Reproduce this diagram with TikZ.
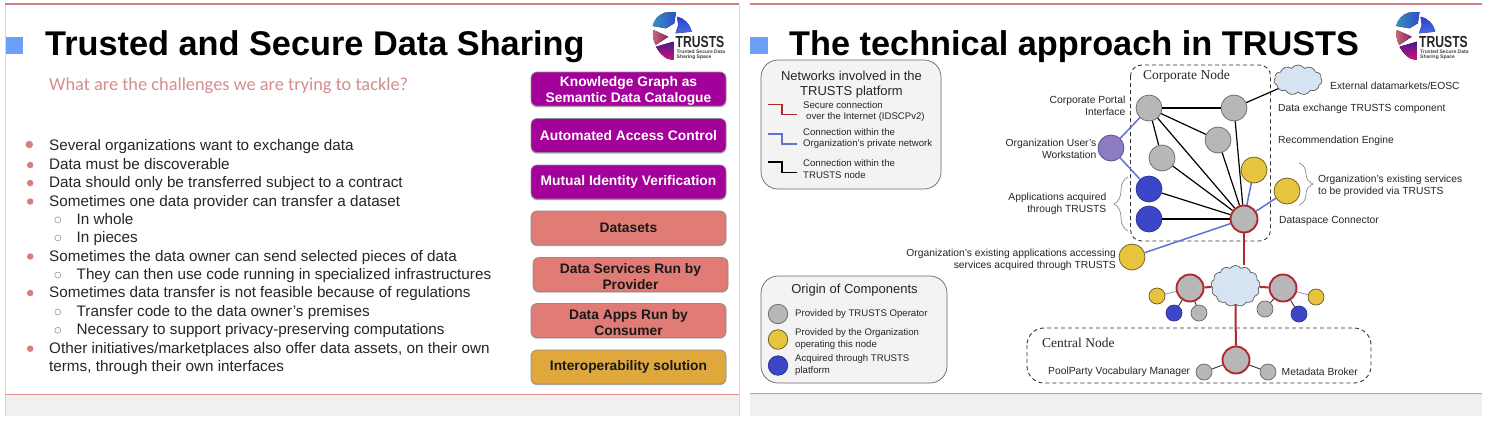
\documentclass[tikz,border=0pt]{standalone}
\usepackage{fontspec}
\setmainfont{Liberation Sans}
\newfontfamily\subtitlefont{Carlito}
\newfontfamily\labelserif{Liberation Serif}
\usetikzlibrary{shapes.symbols,shadows,decorations.pathreplacing}
\newcommand{\fsz}[1]{\fontsize{#1}{#1}\selectfont}
\newcommand{\topstrut}{\rule{0pt}{14pt}}
\definecolor{slidered}{HTML}{CF8482}
\definecolor{footerline}{HTML}{E58F8C}
\definecolor{bandgray}{HTML}{F0F0F0}
\definecolor{edgegray}{HTML}{D9D9D9}
\definecolor{squareblue}{HTML}{6D9EF8}
\definecolor{subtitlered}{HTML}{D48E8C}
\definecolor{bulletred}{HTML}{D67F7C}
\definecolor{boxpurple}{HTML}{A4009A}
\definecolor{boxred}{HTML}{E07C75}
\definecolor{boxorange}{HTML}{E0A83C}
\definecolor{legendfill}{HTML}{F3F3F3}
\definecolor{compgray}{HTML}{B7B7B7}
\definecolor{compyellow}{HTML}{E6C440}
\definecolor{compblue}{HTML}{3C46C8}
\definecolor{comppurple}{HTML}{8E7CC3}
\definecolor{netred}{HTML}{B0282E}
\definecolor{netblue}{HTML}{5F73CF}
\definecolor{cloudblue}{HTML}{D6E3F3}
\definecolor{txt}{HTML}{262626}
\definecolor{logoteal}{HTML}{3D8FB8}
\definecolor{logoblue}{HTML}{2A4FD0}
\definecolor{logoblueb}{HTML}{2A3FD8}
\definecolor{logobluec}{HTML}{4A6AE0}
\definecolor{logopink}{HTML}{C96A78}
\definecolor{logowine}{HTML}{8A2060}
\definecolor{logoviolet}{HTML}{4A1A90}
\definecolor{logomag}{HTML}{D0107A}
\tikzset{
  slidetitle/.style={anchor=base west,inner sep=0,font=\fsz{34.3}\bfseries,text=black},
  lineitem/.style={anchor=base west,inner sep=0,font=\fsz{15.25},text=txt},
  dotbig/.style={circle,fill=bulletred,inner sep=0,minimum size=6.5pt},
  dothollow/.style={circle,draw=gray!80,line width=.6pt,inner sep=0,minimum size=6pt},
  catbox/.style={rectangle,rounded corners=6pt,minimum width=195pt,minimum height=34pt,inner sep=0,
    align=center,draw=black!45,line width=.7pt,font=\fsz{13.8}\bfseries,
    drop shadow={shadow xshift=0pt,shadow yshift=-1.2pt,opacity=.3,fill=black}},
  pbox/.style={catbox,fill=boxpurple,text=white},
  rbox/.style={catbox,fill=boxred,text=black!90},
  obox/.style={catbox,fill=boxorange,text=black!90},
  legend/.style={rectangle,rounded corners=17pt,draw=black!60,line width=.7pt,fill=legendfill,inner sep=0},
  dashbox/.style={draw=black!80,line width=.9pt,dash pattern=on 4pt off 3pt},
  comp/.style={circle,inner sep=0,minimum size=#1,line width=.7pt},
  comp/.default=26pt,
  cgray/.style={comp=#1,fill=compgray,draw=black!60},
  cgray/.default=26pt,
  cyellow/.style={comp=#1,fill=compyellow,draw=black!55!compyellow},
  cyellow/.default=26pt,
  cblue/.style={comp=#1,fill=compblue,draw=compblue!70!black},
  cblue/.default=26pt,
  cpurple/.style={comp=#1,fill=comppurple,draw=comppurple!60!black},
  cpurple/.default=26pt,
  cgate/.style={comp=#1,fill=compgray,draw=netred,line width=1.9pt},
  cgate/.default=27pt,
  blk/.style={draw=black,line width=1.2pt},
  blu/.style={draw=netblue,line width=1.5pt},
  redl/.style={draw=netred,line width=2pt},
  thinblk/.style={draw=black!80,line width=.9pt},
  thinblu/.style={draw=netblue!70,line width=.9pt},
  lab/.style={inner sep=0,font=\fsz{10.3},text=txt,align=#1},
  lab/.default=left,
  leglab/.style={inner sep=0,anchor=west,font=\fsz{9.6},text=txt,align=left},
  nodehead/.style={inner sep=0,anchor=west,font=\labelserif\fsz{13.5},text=txt},
  skycloud/.style={cloud,cloud puffs=#1,cloud puff arc=110,aspect=1.3,draw=black!65,fill=cloudblue,inner sep=0,line width=.7pt},
  bracel/.style={draw=black!45,line width=.7pt,decorate,decoration={brace,amplitude=14pt}},
}
% #1 = horizontal shift, #2 = prefix for the logo's node names
\newcommand{\trustslogo}[2]{%
  \begin{scope}[xshift=#1]
    \fill[left color=logoteal,right color=logoblue,draw=none]
      (652.7,26) .. controls (654,20) and (658,15) .. (665,12.6) -- (676,12) -- (674.3,23.3) -- (666,28.3) -- cycle;
    \fill[top color=logoblueb,bottom color=logobluec]
      (677,16.7) .. controls (684,18) and (690,24) .. (691.7,31.7) -- (675.5,33.3) -- (678.3,25) -- cycle;
    \fill[left color=logopink,right color=logowine]
      (653.3,30) -- (668.3,36.7) -- (655.7,45) .. controls (653,40) and (652.5,35) .. (653.3,30) -- cycle;
    \fill[top color=logoviolet,bottom color=logomag]
      (656,46.7) -- (673.3,41.7) -- (673.3,60) .. controls (666,60) and (660,54) .. (656,46.7) -- cycle;
    \node[inner sep=0,anchor=base west,font=\fsz{16}\bfseries,text=black!85] (#2name) at (675.5,47.5) {\scalebox{.76}[1]{TRUSTS}};
    \node[inner sep=0,anchor=base west,font=\fsz{5}\bfseries,text=black!75,align=left] (#2sub) at (676.5,53) {Trusted Secure Data};
    \node[inner sep=0,anchor=base west,font=\fsz{5}\bfseries,text=black!75,align=left] (#2subb) at (676.5,58.5) {Sharing Space};
  \end{scope}}
\begin{document}
\begin{tikzpicture}[x=1pt,y=-1pt]
\useasboundingbox (0,0) rectangle (1493,421);
\fill[white] (0,0) rectangle (1493,421);

%% ---- slide frames
\fill[bandgray] (5,395) rectangle (739,415.5);
\fill[bandgray] (750,394) rectangle (1482,415.5);
\draw[edgegray,line width=.7pt] (5.3,4) -- (5.3,415.5);
\draw[edgegray,line width=.7pt] (739.3,4) -- (739.3,415.5);
\draw[slidered,line width=1.5pt] (5,4.2) -- (739,4.2);
\draw[slidered,line width=1.5pt] (750,4.2) -- (1482,4.2);
\draw[footerline,line width=1pt] (5,394.3) -- (739,394.3);
\draw[footerline,line width=1pt] (750,393.3) -- (1482,393.3);
\fill[squareblue] (5.5,37) rectangle (23,54);
\fill[squareblue] (750,37) rectangle (768,54);

%% ---- slide 1 text
\node[slidetitle] (t1) at (45,55) {Trusted and Secure Data Sharing};
\node[inner sep=0,anchor=base west,font=\subtitlefont\fsz{18.35},text=subtitlered] (st1) at (49,90) {What are the challenges we are trying to tackle?};

\node[dotbig,minimum size=7.5pt] (b1) at (29.3,144.5) {};
\node[lineitem] (l1) at (49,150) {Several organizations want to exchange data};
\node[dotbig] (b2) at (30.2,165) {};
\node[lineitem] (l2) at (49,169.5) {Data must be discoverable};
\node[dotbig] (b3) at (30.2,183) {};
\node[lineitem] (l3) at (49,187.8) {Data should only be transferred subject to a contract};
\node[dotbig] (b4) at (30.2,201.5) {};
\node[lineitem] (l4) at (49,206) {Sometimes one data provider can transfer a dataset};
\node[dothollow] (c1) at (57.8,219.8) {};
\node[lineitem] (l5) at (76.5,224.5) {In whole};
\node[dothollow] (c2) at (57.8,238) {};
\node[lineitem] (l6) at (76.5,242.7) {In pieces};
\node[dotbig] (b5) at (30.2,256.5) {};
\node[lineitem] (l7) at (49,261) {Sometimes the data owner can send selected pieces of data};
\node[dothollow] (c3) at (57.8,275) {};
\node[lineitem] (l8) at (76.5,279.3) {They can then use code running in specialized infrastructures};
\node[dotbig] (b6) at (30.2,293) {};
\node[lineitem] (l9) at (49,297.5) {Sometimes data transfer is not feasible because of regulations};
\node[dothollow] (c4) at (57.8,312) {};
\node[lineitem] (l10) at (76.5,316.5) {Transfer code to the data owner’s premises};
\node[dothollow] (c5) at (57.8,330.3) {};
\node[lineitem] (l11) at (76.5,334.8) {Necessary to support privacy-preserving computations};
\node[dotbig] (b7) at (30.2,348.7) {};
\node[lineitem] (l12) at (49,353) {Other initiatives/marketplaces also offer data assets, on their own};
\node[lineitem] (l13) at (49,371.3) {terms, through their own interfaces};

%% ---- slide 1 boxes
\node[pbox] (k1) at (628.5,89) {\topstrut Knowledge Graph as\\[2pt]Semantic Data Catalogue};
\node[pbox] (k2) at (628.5,135.5) {Automated Access Control};
\node[pbox] (k3) at (628.5,182) {Mutual Identity Verification};
\node[rbox] (k4) at (628.5,228) {Datasets};
\node[rbox] (k5) at (630.5,274.5) {\topstrut Data Services Run by\\[2.5pt]Provider};
\node[rbox] (k6) at (628.5,320.5) {\topstrut Data Apps Run by\\[2.5pt]Consumer};
\node[obox] (k7) at (628.5,367) {Interoperability solution};

\trustslogo{0pt}{la}
\trustslogo{743.5pt}{lb}

%% ---- slide 2 title
\node[slidetitle] (t2) at (789,55) {The technical approach in TRUSTS};

%% ---- legend: networks
\node[legend,minimum width=180pt,minimum height=129pt] (lg1) at (851,124.5) {};
\node[inner sep=0,font=\fsz{13},align=center,text=txt] (lg1t) at (851.5,84.5) {Networks involved in the\\[2.2pt]TRUSTS platform};
\coordinate (ra) at (768,104.3); \coordinate (rb) at (797,114.7);
\coordinate (ba) at (768,134); \coordinate (bb) at (797,144);
\coordinate (ka) at (768,162); \coordinate (kb) at (797,172.3);
\draw[netred,line width=1.2pt] (ra) -| (782,114.7) -- (rb);
\draw[netblue,line width=1.2pt] (ba) -| (782,144) -- (bb);
\draw[black,line width=1.2pt] (ka) -| (782,172.3) -- (kb);
\node[leglab] (n1) at (803,105.5) {Secure connection};
\node[leglab] (n2) at (806,117.5) {over the Internet (IDSCPv2)};
\node[leglab] (n3) at (803,132.5) {Connection within the};
\node[leglab] (n4) at (803,144.5) {Organization’s private network};
\node[leglab] (n5) at (803,163.5) {Connection within the};
\node[leglab] (n6) at (803,175) {TRUSTS node};

%% ---- legend: origin
\node[legend,minimum width=186pt,minimum height=107pt] (lg2) at (854,329.5) {};
\node[inner sep=0,font=\fsz{13},text=txt] (lg2t) at (854.5,290.5) {Origin of Components};
\node[cgray=19.5pt] (o1) at (778,314) {};
\node[cyellow=19.5pt] (o2) at (778,339.5) {};
\node[cblue=19.5pt] (o3) at (778,365.5) {};
\node[leglab] (m1) at (795,314) {Provided by TRUSTS Operator};
\node[leglab] (m2) at (795,333.5) {Provided by the Organization};
\node[leglab] (m3) at (795,345) {operating this node};
\node[leglab] (m4) at (795,359.5) {Acquired through TRUSTS};
\node[leglab] (m5) at (795,371) {platform};

%% ---- dashed group boxes
\draw[dashbox,rounded corners=11pt] (1130.5,65) rectangle (1270.5,241);
\draw[dashbox,rounded corners=17pt] (1027,328) rectangle (1371,383);
\node[nodehead] (corp) at (1143,76.5) {Corporate Node};
\node[nodehead] (cent) at (1042,342.5) {Central Node};

%% ---- clouds
\node[skycloud=11,minimum width=48pt,minimum height=30pt] (cl1) at (1298,80) {};
\node[skycloud=13,minimum width=49pt,minimum height=41pt] (cl2) at (1235.5,286) {};

%% ---- corporate node components
\node[cgray] (portal) at (1149,108) {};
\node[cgray] (exch) at (1234,108) {};
\node[cgray] (rec) at (1218,140) {};
\node[cgray] (mid) at (1162,158) {};
\node[cpurple] (user) at (1111,148) {};
\node[cblue] (app1) at (1149,189) {};
\node[cblue] (app2) at (1149,219) {};
\node[cyellow] (ysvc1) at (1254,170) {};
\node[cyellow] (ysvc2) at (1287,191) {};
\node[cgate] (dc) at (1244,219) {};
\node[cyellow] (yapp) at (1132,257) {};

%% ---- other nodes
\node[cgate] (nl) at (1190,288) {};
\node[cgate] (nr) at (1283,288) {};
\node[cyellow=16pt] (nl1) at (1157,296) {};
\node[cblue=16pt] (nl2) at (1174,313) {};
\node[cgray=16pt] (nl3) at (1199,313) {};
\node[cgray=16pt] (nr1) at (1265,309) {};
\node[cblue=16pt] (nr2) at (1299,314) {};
\node[cyellow=16pt] (nr3) at (1316,297) {};
\node[cgate] (cn) at (1236,360) {};
\node[cgray=16pt] (cn1) at (1204,372) {};
\node[cgray=16pt] (cn2) at (1268,372) {};

%% ---- connectors
\draw[blk] (portal) -- (exch);
\draw[blk] (portal) -- (mid);
\draw[blk] (portal) -- (rec);
\draw[blk] (portal) -- (dc);
\draw[blk] (mid) -- (dc);
\draw[blk] (rec) -- (dc);
\draw[blk] (exch) -- (dc);
\draw[blk] (app1) -- (dc);
\draw[blk] (app2) -- (dc);
\draw[blk] (exch) -- (cl1);
\draw[blu] (portal) -- (user);
\draw[blu] (user) -- (app1);
\draw[blu] (dc) -- (ysvc1);
\draw[blu] (dc) -- (ysvc2);
\draw[blu] (dc) -- (yapp);
\draw[redl] (dc) -- (dc |- cl2.north);
\draw[redl] (nl) -- (cl2);
\draw[redl] (nr) -- (cl2);
\draw[redl] (cl2.south) -- (cn);
\draw[thinblu] (nl) -- (nl1);
\draw[thinblk] (nl) -- (nl2);
\draw[thinblk] (nl) -- (nl3);
\draw[thinblk] (nr) -- (nr1);
\draw[thinblk] (nr) -- (nr2);
\draw[thinblu] (nr) -- (nr3);
\draw[thinblk] (cn) -- (cn1);
\draw[thinblk] (cn) -- (cn2);

%% ---- braces
\coordinate (bl1) at (1128,231); \coordinate (bl2) at (1128,177);
\coordinate (br1) at (1299,163); \coordinate (br2) at (1299,205);
\draw[bracel] (bl1) -- (bl2);
\draw[bracel] (br1) -- (br2);

%% ---- labels
\node[lab=right,anchor=east] (a1) at (1125.5,106) {Corporate Portal\\[2pt]Interface};
\node[lab=right,anchor=east] (a2) at (1096.5,149) {Organization User’s\\[2pt]Workstation};
\node[lab=right,anchor=east] (a3) at (1106.5,204) {Applications acquired\\[2pt]through TRUSTS};
\node[lab,anchor=west] (a4) at (1330,85.5) {External datamarkets/EOSC};
\node[lab,anchor=west] (a5) at (1278,108.5) {Data exchange TRUSTS component};
\node[lab,anchor=west] (a6) at (1278,140.5) {Recommendation Engine};
\node[lab,anchor=west] (a7) at (1318,185.5) {Organization’s existing services\\[2pt]to be provided via TRUSTS};
\node[lab,anchor=west] (a8) at (1279,220.5) {Dataspace Connector};
\node[lab=right,anchor=east] (a9) at (1116,259.5) {Organization’s existing applications accessing\\[2pt]services acquired through TRUSTS};
\node[lab,anchor=west] (a10) at (1048,372) {PoolParty Vocabulary Manager};
\node[lab,anchor=west] (a11) at (1281.5,372) {Metadata Broker};
\end{tikzpicture}
\end{document}
